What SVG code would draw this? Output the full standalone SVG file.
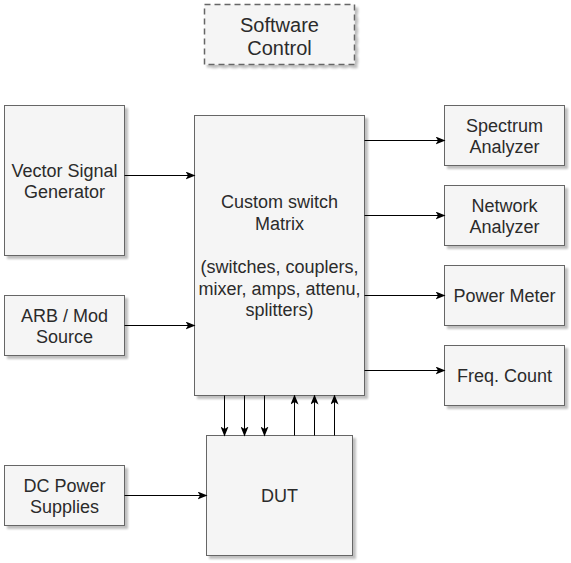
<svg xmlns="http://www.w3.org/2000/svg" width="571" height="563" viewBox="0 0 571 563">
  <defs>
    <filter id="shadow" x="-10%" y="-10%" width="130%" height="130%">
      <feGaussianBlur in="SourceAlpha" stdDeviation="1.2"/>
      <feOffset dx="2.5" dy="3" result="off"/>
      <feComponentTransfer><feFuncA type="linear" slope="0.25"/></feComponentTransfer>
      <feMerge><feMergeNode/><feMergeNode in="SourceGraphic"/></feMerge>
    </filter>
    <marker id="arrow" viewBox="0 0 10 8" refX="9" refY="4" markerWidth="10" markerHeight="8" markerUnits="userSpaceOnUse" orient="auto">
      <path d="M0,0 L10,4 L0,8 L2.5,4 Z" fill="#000"/>
    </marker>
  </defs>
  <style>
    .box { fill: #f5f5f5; stroke: #666666; stroke-width: 1; filter: url(#shadow); }
    .dashed { stroke-dasharray: 6 4; stroke-width: 1.5; }
    .lbl { font-family: "Liberation Sans", Arial, Helvetica, sans-serif; font-size: 18px; fill: #2b2b2b; text-anchor: middle; }
    .big { font-size: 20px; }
    .wire { stroke: #000; stroke-width: 1; fill: none; marker-end: url(#arrow); }
  </style>

  <rect width="571" height="563" fill="#ffffff"/>

  <g id="software-control">
    <rect class="box dashed" x="204.5" y="4.5" width="150" height="60"/>
    <text class="lbl big" x="279.5" y="31.5">Software</text>
    <text class="lbl big" x="279.5" y="54.5">Control</text>
  </g>

  <g id="vector-signal-generator">
    <rect class="box" x="4.5" y="105.5" width="120" height="150"/>
    <text class="lbl" x="64.5" y="176.7">Vector Signal</text>
    <text class="lbl" x="64.5" y="198.3">Generator</text>
  </g>

  <g id="arb-mod-source">
    <rect class="box" x="4.5" y="295.5" width="120" height="60"/>
    <text class="lbl" x="64.5" y="321.7">ARB / Mod</text>
    <text class="lbl" x="64.5" y="343.3">Source</text>
  </g>

  <g id="dc-power-supplies">
    <rect class="box" x="4.5" y="465.5" width="120" height="60"/>
    <text class="lbl" x="64.5" y="491.7">DC Power</text>
    <text class="lbl" x="64.5" y="513.3">Supplies</text>
  </g>

  <g id="switch-matrix">
    <rect class="box" x="194.5" y="115.5" width="170" height="280"/>
    <text class="lbl" x="279.5" y="208.3">Custom switch</text>
    <text class="lbl" x="279.5" y="229.9">Matrix</text>
    <text class="lbl" x="279.5" y="273.1">(switches, couplers,</text>
    <text class="lbl" x="279.5" y="294.7">mixer, amps, attenu,</text>
    <text class="lbl" x="279.5" y="316.3">splitters)</text>
  </g>

  <g id="dut">
    <rect class="box" x="206.5" y="435.5" width="146" height="120"/>
    <text class="lbl" x="279.5" y="501.7">DUT</text>
  </g>

  <g id="spectrum-analyzer">
    <rect class="box" x="444.5" y="105.5" width="120" height="60"/>
    <text class="lbl" x="504.5" y="131.7">Spectrum</text>
    <text class="lbl" x="504.5" y="153.3">Analyzer</text>
  </g>

  <g id="network-analyzer">
    <rect class="box" x="444.5" y="185.5" width="120" height="60"/>
    <text class="lbl" x="504.5" y="211.7">Network</text>
    <text class="lbl" x="504.5" y="233.3">Analyzer</text>
  </g>

  <g id="power-meter">
    <rect class="box" x="444.5" y="265.5" width="120" height="60"/>
    <text class="lbl" x="504.5" y="301.7">Power Meter</text>
  </g>

  <g id="freq-count">
    <rect class="box" x="444.5" y="345.5" width="120" height="60"/>
    <text class="lbl" x="504.5" y="381.7">Freq. Count</text>
  </g>

  <g id="connectors">
    <path class="wire" d="M124.5,175.5 H194.5"/>
    <path class="wire" d="M124.5,325.5 H194.5"/>
    <path class="wire" d="M124.5,495.5 H206.5"/>
    <path class="wire" d="M364.5,140.5 H444.5"/>
    <path class="wire" d="M364.5,215.5 H444.5"/>
    <path class="wire" d="M364.5,295.5 H444.5"/>
    <path class="wire" d="M364.5,370.5 H444.5"/>
    <path class="wire" d="M224.5,395.5 V435.5"/>
    <path class="wire" d="M244.5,395.5 V435.5"/>
    <path class="wire" d="M264.5,395.5 V435.5"/>
    <path class="wire" d="M294.5,435.5 V395.5"/>
    <path class="wire" d="M314.5,435.5 V395.5"/>
    <path class="wire" d="M334.5,435.5 V395.5"/>
  </g>
</svg>
